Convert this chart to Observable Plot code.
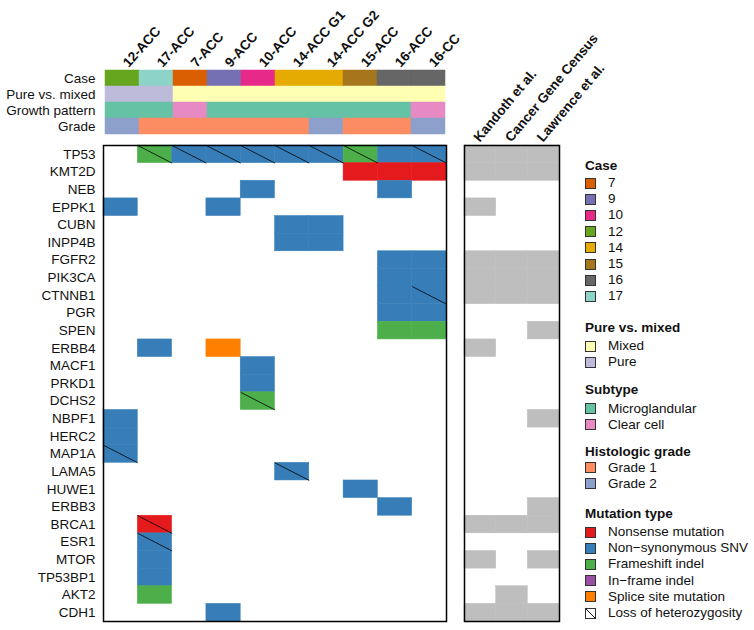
<!DOCTYPE html>
<html><head><meta charset="utf-8">
<script src="https://cdn.jsdelivr.net/npm/d3@7"></script>
<script src="https://cdn.jsdelivr.net/npm/@observablehq/plot@0.6"></script>
<style>
body{margin:0;background:#fff;font-family:"Liberation Sans",Arial,sans-serif;}
#chart{position:relative;width:754px;height:630px;overflow:hidden;}
#chart svg{position:absolute;left:0;top:0;overflow:visible;background:transparent;}
.lg{position:absolute;left:585px;font-size:13.5px;color:#111;white-space:nowrap;}
.lg .t{font-weight:bold;height:16px;line-height:16px;}
.lg .it{position:absolute;left:0;height:16px;line-height:16px;display:flex;align-items:center;}
.lg .it svg{position:static !important;margin-right:12px;}
</style></head><body><div id="chart"></div><script>
// ---- data ----
const samples = ["12-ACC","17-ACC","7-ACC","9-ACC","10-ACC","14-ACC G1","14-ACC G2","15-ACC","16-ACC","16-CC"];
const caseIds = ["12","17","7","9","10","14","14","15","16","16"];
const purity = ["Pure","Pure","Mixed","Mixed","Mixed","Mixed","Mixed","Mixed","Mixed","Mixed"];
const growth = ["Microglandular","Microglandular","Clear cell","Microglandular","Microglandular","Microglandular","Microglandular","Microglandular","Microglandular","Clear cell"];
const grade = ["Grade 2","Grade 1","Grade 1","Grade 1","Grade 1","Grade 1","Grade 2","Grade 1","Grade 1","Grade 2"];
const tracks = ["Case","Pure vs. mixed","Growth pattern","Grade"];

const genes = ["TP53","KMT2D","NEB","EPPK1","CUBN","INPP4B","FGFR2","PIK3CA","CTNNB1","PGR","SPEN","ERBB4","MACF1","PRKD1","DCHS2","NBPF1","HERC2","MAP1A","LAMA5","HUWE1","ERBB3","BRCA1","ESR1","MTOR","TP53BP1","AKT2","CDH1"];

const mutTypes = ["Nonsense mutation","Non\u2212synonymous SNV","Frameshift indel","In\u2212frame indel","Splice site mutation"];
const mutColors = ["#e41a1c","#377eb8","#4daf4a","#984ea3","#ff7f00"];
const NS = mutTypes[0], SNV = mutTypes[1], FS = mutTypes[2], SP = mutTypes[4];

// [gene, sample, mutation type, loss of heterozygosity]
const mutations = [
 ["TP53","17-ACC",FS,true],["TP53","7-ACC",SNV,true],["TP53","9-ACC",SNV,true],["TP53","10-ACC",SNV,true],
 ["TP53","14-ACC G1",SNV,true],["TP53","14-ACC G2",SNV,true],["TP53","15-ACC",FS,true],["TP53","16-ACC",SNV,false],["TP53","16-CC",SNV,true],
 ["KMT2D","15-ACC",NS,false],["KMT2D","16-ACC",NS,false],["KMT2D","16-CC",NS,false],
 ["NEB","10-ACC",SNV,false],["NEB","16-ACC",SNV,false],
 ["EPPK1","12-ACC",SNV,false],["EPPK1","9-ACC",SNV,false],
 ["CUBN","14-ACC G1",SNV,false],["CUBN","14-ACC G2",SNV,false],
 ["INPP4B","14-ACC G1",SNV,false],["INPP4B","14-ACC G2",SNV,false],
 ["FGFR2","16-ACC",SNV,false],["FGFR2","16-CC",SNV,false],
 ["PIK3CA","16-ACC",SNV,false],["PIK3CA","16-CC",SNV,false],
 ["CTNNB1","16-ACC",SNV,false],["CTNNB1","16-CC",SNV,true],
 ["PGR","16-ACC",SNV,false],["PGR","16-CC",SNV,false],
 ["SPEN","16-ACC",FS,false],["SPEN","16-CC",FS,false],
 ["ERBB4","17-ACC",SNV,false],["ERBB4","9-ACC",SP,false],
 ["MACF1","10-ACC",SNV,false],["PRKD1","10-ACC",SNV,false],["DCHS2","10-ACC",FS,true],
 ["NBPF1","12-ACC",SNV,false],["HERC2","12-ACC",SNV,false],["MAP1A","12-ACC",SNV,true],
 ["LAMA5","14-ACC G1",SNV,true],["HUWE1","15-ACC",SNV,false],["ERBB3","16-ACC",SNV,false],
 ["BRCA1","17-ACC",NS,true],["ESR1","17-ACC",SNV,true],["MTOR","17-ACC",SNV,false],
 ["TP53BP1","17-ACC",SNV,false],["AKT2","17-ACC",FS,false],["CDH1","9-ACC",SNV,false]
];

const databases = ["Kandoth et al.","Cancer Gene Census","Lawrence et al."];
const kandoth = ["TP53","KMT2D","EPPK1","FGFR2","PIK3CA","CTNNB1","ERBB4","BRCA1","MTOR","CDH1"];
const cgc = ["TP53","KMT2D","FGFR2","PIK3CA","CTNNB1","BRCA1","AKT2","CDH1"];
const lawrence = ["TP53","KMT2D","FGFR2","PIK3CA","CTNNB1","SPEN","NBPF1","ERBB3","BRCA1","MTOR","CDH1"];

const caseLegend = ["7","9","10","12","14","15","16","17"];
const caseColors = ["#d95f02","#7570b3","#e7298a","#66a61e","#e6ab02","#a6761d","#666666","#8dd3c7"];
const purityLegend = ["Mixed","Pure"];
const purityColors = ["#ffffb3","#bebada"];
const subtypeLegend = ["Microglandular","Clear cell"];
const subtypeColors = ["#66c2a5","#e78ac3"];
const gradeLegend = ["Grade 1","Grade 2"];
const gradeColors = ["#fc8d62","#8da0cb"];
const lohLabel = "Loss of heterozygosity";
const dbColor = "#bebebe";

// ---- drawing ----
const chart = document.getElementById("chart");
const font = {fontSize:"13.5px", fontFamily:"'Liberation Sans', Arial, sans-serif", color:"#111", background:"transparent"};

const annRows = samples.flatMap((s,i)=>[
  {track:tracks[0], sample:s, value:caseIds[i]},
  {track:tracks[1], sample:s, value:purity[i]},
  {track:tracks[2], sample:s, value:growth[i]},
  {track:tracks[3], sample:s, value:grade[i]}
]);

const ann = Plot.plot({
  width:754, height:134, marginTop:70, marginBottom:0, marginLeft:103, marginRight:308,
  style:font,
  x:{domain:samples, padding:0, axis:null},
  y:{domain:tracks, padding:0, axis:null},
  color:{domain:[...caseLegend,...purityLegend,...subtypeLegend,...gradeLegend],
         range:[...caseColors,...purityColors,...subtypeColors,...gradeColors]},
  marks:[
    Plot.cell(annRows,{x:"sample", y:"track", fill:"value", stroke:"value", strokeWidth:0.5}),
    Plot.axisY({tickSize:0, tickPadding:8, label:null}),
    Plot.text(samples,{x:d=>d, frameAnchor:"top", dy:-9, dx:-1, rotate:-48, textAnchor:"start", fontWeight:"bold", fontSize:13.5})
  ]
});
chart.appendChild(ann);

const mutRows = mutations.map(([gene,sample,type,loh])=>({gene,sample,type,loh,xi:samples.indexOf(sample),yi:genes.indexOf(gene)}));
const main = Plot.plot({
  width:754, height:630, marginTop:145, marginBottom:9, marginLeft:103, marginRight:308,
  style:font,
  x:{domain:[0,samples.length], axis:null},
  y:{domain:[0,genes.length], reverse:true, axis:null},
  color:{domain:mutTypes, range:mutColors},
  marks:[
    Plot.rect(mutRows,{x1:"xi", x2:d=>d.xi+1, y1:"yi", y2:d=>d.yi+1, fill:"type", stroke:"type", strokeWidth:0.5}),
    Plot.link(mutRows.filter(d=>d.loh),{x1:"xi", y1:"yi", x2:d=>d.xi+1, y2:d=>d.yi+1, stroke:"#000", strokeWidth:0.8}),
    Plot.axisY(genes.map((g,i)=>i+0.5),{tickSize:0, tickPadding:8, label:null, tickFormat:d=>genes[Math.floor(d)]}),
    Plot.frame({stroke:"#000", strokeWidth:1.5})
  ]
});
chart.appendChild(main);

const dbLists = [kandoth, cgc, lawrence];
const dbRows = databases.flatMap((db,j)=>dbLists[j].map(g=>({db, gene:g, xi:j, yi:genes.indexOf(g)})));
const side = Plot.plot({
  width:754, height:630, marginTop:145, marginBottom:9, marginLeft:464, marginRight:195,
  style:font,
  x:{domain:[0,databases.length], axis:null},
  y:{domain:[0,genes.length], reverse:true, axis:null},
  marks:[
    Plot.rect(dbRows,{x1:"xi", x2:d=>d.xi+1, y1:"yi", y2:d=>d.yi+1, fill:dbColor, stroke:dbColor, strokeWidth:0.5}),
    Plot.frame({stroke:"#000", strokeWidth:1.5}),
    Plot.text(databases,{x:(d,i)=>i+0.5, frameAnchor:"top", dy:-9, dx:-8, rotate:-50, textAnchor:"start", fontWeight:"bold", fontSize:13.5})
  ]
});
chart.appendChild(side);

// ---- legend ----
function swatch(color, loh){
  return `<svg width="11" height="11" viewBox="0 0 11 11"><rect x="0.5" y="0.5" width="10" height="10" fill="${color}" stroke="#333" stroke-width="1"/>` +
    (loh ? `<line x1="0.5" y1="0.5" x2="10.5" y2="10.5" stroke="#111" stroke-width="1"/>` : "") + `</svg>`;
}
const groups = [
  {title:"Case", top:158, first:17, labels:caseLegend, colors:caseColors},
  {title:"Pure vs. mixed", top:320, first:18, labels:purityLegend, colors:purityColors},
  {title:"Subtype", top:382, first:18.5, labels:subtypeLegend, colors:subtypeColors},
  {title:"Histologic grade", top:444, first:15.5, labels:gradeLegend, colors:gradeColors},
  {title:"Mutation type", top:506, first:18, labels:[...mutTypes, lohLabel], colors:[...mutColors, "#fff"]}
];
for (const g of groups){
  const div = document.createElement("div");
  div.className = "lg";
  div.style.top = g.top + "px";
  let html = `<div class="t">${g.title}</div>`;
  g.labels.forEach((l,i)=>{
    const cy = g.first + i*16.2;
    html += `<div class="it" style="top:${cy}px">${swatch(g.colors[i], l===lohLabel)}<span>${l}</span></div>`;
  });
  div.innerHTML = html;
  chart.appendChild(div);
}
</script></body></html>
